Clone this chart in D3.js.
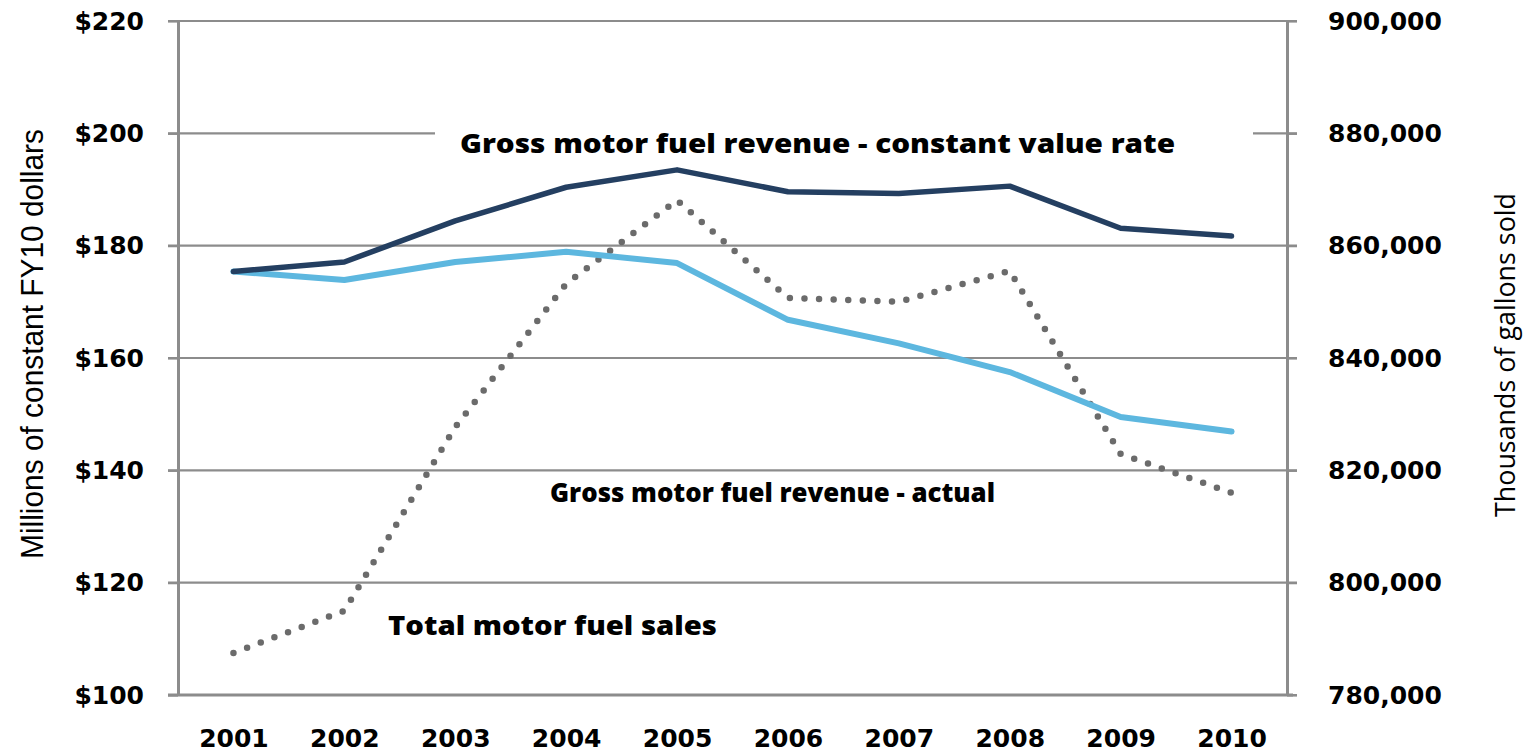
<!DOCTYPE html>
<html>
<head>
<meta charset="utf-8">
<script src="https://cdn.jsdelivr.net/npm/d3@7"></script>
<style>
body{margin:0;background:#fff;}
.tick text{fill:#000;}
</style>
</head>
<body>
<svg id="chart"></svg>
<script>
// data
var years = ["2001","2002","2003","2004","2005","2006","2007","2008","2009","2010"]
var constantRate = [175.4,177.1,184.4,190.4,193.5,189.6,189.3,190.6,183.1,181.7]
var actualRevenue = [175.4,173.9,177.1,178.9,176.9,166.8,162.6,157.5,149.5,146.9]
var fuelSales = [787500,795000,827700,853200,868100,850700,850000,855500,822900,816000]
var leftTicks = [100,120,140,160,180,200,220]
var rightTicks = [780000,800000,820000,840000,860000,880000,900000]

var gridColor = "#8c8c8c"

var drawGrid = function(target,xScale,yScale)
{
    var grid = target.append("g").classed("grid",true)
    grid.selectAll("line")
    .data(leftTicks)
    .enter()
    .append("line")
    .attr("x1",xScale.range()[0]-10)
    .attr("x2",xScale.range()[1]+10)
    .attr("y1",function(d){return yScale(d)})
    .attr("y2",function(d){return yScale(d)})
    .attr("stroke",gridColor)
    .attr("stroke-width",2.2)
}

var drawAxes = function(target,xScale,yLeft,yRight)
{
    var x0 = xScale.range()[0], x1 = xScale.range()[1]
    var yBottom = yLeft.range()[0]

    var leftAxis = d3.axisLeft(yLeft)
        .tickValues(leftTicks)
        .tickSize(10).tickSizeOuter(0).tickPadding(24)
        .tickFormat(function(d){return "$"+d})
    var rightAxis = d3.axisRight(yRight)
        .tickValues(rightTicks)
        .tickSize(10).tickSizeOuter(0).tickPadding(31)
        .tickFormat(d3.format(","))
    var xAxis = d3.axisBottom(xScale)
        .tickSize(0).tickSizeOuter(0).tickPadding(34)

    var gl = target.append("g")
    .attr("transform","translate("+x0+",0)")
    .call(leftAxis)
    var gr = target.append("g")
    .attr("transform","translate("+x1+",0)")
    .call(rightAxis)
    var gx = target.append("g")
    .attr("transform","translate(0,"+yBottom+")")
    .call(xAxis)

    ;[gl,gr,gx].forEach(function(g){
        g.attr("font-family","'DejaVu Sans', sans-serif")
         .attr("font-size",25)
         .attr("font-weight","bold")
        g.selectAll(".tick line").attr("stroke",gridColor).attr("stroke-width",2.2)
        g.select(".domain").attr("stroke",gridColor).attr("stroke-width",3)
    })
    gx.select(".domain").attr("d","M"+(x0-10)+",0H"+(x1+6))
}

var drawLines = function(target,xScale,yLeft,yRight)
{
    var lineLeft = d3.line()
        .x(function(d,i){return xScale(years[i])})
        .y(function(d){return yLeft(d)})
    var lineRight = d3.line()
        .x(function(d,i){return xScale(years[i])})
        .y(function(d){return yRight(d)})

    target.append("path")
    .datum(fuelSales)
    .attr("d",lineRight)
    .attr("fill","none")
    .attr("stroke","#6b6b6b")
    .attr("stroke-width",6.5)
    .attr("stroke-linecap","round")
    .attr("stroke-dasharray","0 14.6")

    target.append("path")
    .datum(actualRevenue)
    .attr("d",lineLeft)
    .attr("fill","none")
    .attr("stroke","#5db7df")
    .attr("stroke-width",6)
    .attr("stroke-linecap","round")
    .attr("stroke-linejoin","round")

    target.append("path")
    .datum(constantRate)
    .attr("d",lineLeft)
    .attr("fill","none")
    .attr("stroke","#243f61")
    .attr("stroke-width",5.5)
    .attr("stroke-linecap","round")
    .attr("stroke-linejoin","round")
}

var drawLabels = function(svg)
{
    var labels = svg.append("g").classed("labels",true)

    // white box behind the top note hides the gridline
    labels.append("rect")
    .attr("x",435).attr("y",112)
    .attr("width",818).attr("height",48)
    .attr("fill","#fff")

    var notes = [
        {text:"Gross motor fuel revenue - constant value rate",x:460,y:153,len:715},
        {text:"Gross motor fuel revenue - actual",x:550,y:502,len:445},
        {text:"Total motor fuel sales",x:388,y:635,len:329}
    ]
    labels.selectAll("text.note")
    .data(notes)
    .enter()
    .append("text")
    .classed("note",true)
    .text(function(d){return d.text})
    .attr("x",function(d){return d.x})
    .attr("y",function(d){return d.y})
    .attr("textLength",function(d){return d.len})
    .attr("lengthAdjust","spacingAndGlyphs")
    .attr("font-family","'Open Sans', sans-serif")
    .attr("font-weight",800)
    .attr("font-size",27)
    .attr("fill","#000")

    labels.append("text")
    .text("Millions of constant FY10  dollars")
    .attr("transform","translate(43,344) rotate(-90)")
    .attr("text-anchor","middle")
    .attr("textLength",430)
    .attr("lengthAdjust","spacingAndGlyphs")
    .attr("font-family","'Liberation Sans Narrow','Liberation Sans',sans-serif")
    .attr("font-size",31)
    .attr("fill","#000")

    labels.append("text")
    .text("Thousands of gallons sold")
    .attr("transform","translate(1515,355) rotate(-90)")
    .attr("text-anchor","middle")
    .attr("textLength",324)
    .attr("lengthAdjust","spacingAndGlyphs")
    .attr("font-family","'Open Sans', sans-serif")
    .attr("font-size",27)
    .attr("fill","#000")
}

var initGraph = function()
{
    var screen = {width:1530,height:752}
    var plot = {left:178,right:1287,top:21,bottom:695}

    var svg = d3.select("#chart")
    .attr("width",screen.width)
    .attr("height",screen.height)

    var xScale = d3.scalePoint()
        .domain(years)
        .range([plot.left,plot.right])
        .padding(0.5)
    var yLeft = d3.scaleLinear()
        .domain([100,220])
        .range([plot.bottom,plot.top])
    var yRight = d3.scaleLinear()
        .domain([780000,900000])
        .range([plot.bottom,plot.top])

    drawGrid(svg,xScale,yLeft)
    drawAxes(svg,xScale,yLeft,yRight)
    drawLabels(svg)
    drawLines(svg,xScale,yLeft,yRight)
}

initGraph()
</script>
</body>
</html>
